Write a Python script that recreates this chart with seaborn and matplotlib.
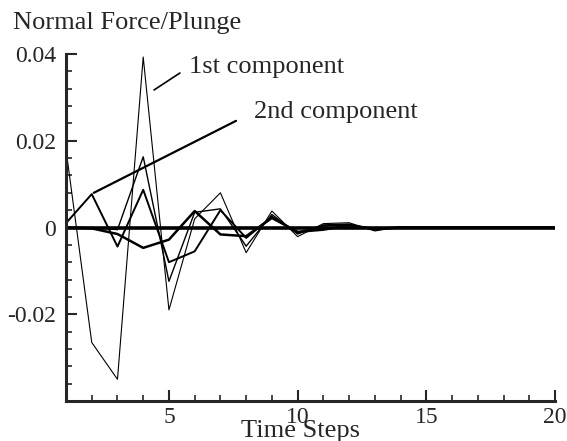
import numpy as np
import pandas as pd
import matplotlib
matplotlib.use("Agg")
import matplotlib.pyplot as plt
import seaborn as sns
from matplotlib.ticker import MultipleLocator, FixedLocator

steps = list(range(1, 21))
series_a = [0.018, -0.0265, -0.035, 0.0393, -0.019, 0.002, 0.008, -0.0058, 0.0038, -0.0021,
            0.0009, 0.0011, -0.0008, 0.0002, 0.0, 0.0, 0.0, 0.0, 0.0, 0.0]
series_b = [0.0, 0.0, -0.0005, 0.0163, -0.0124, 0.0035, 0.0043, -0.0043, 0.0030, -0.0015,
            0.0006, 0.0008, -0.0006, 0.0001, 0.0, 0.0, 0.0, 0.0, 0.0, 0.0]
series_c = [0.001, 0.0077, -0.0044, 0.0087, -0.008, -0.0055, 0.0040, -0.0024, 0.0025, -0.0012,
            0.0004, 0.0006, -0.0004, 0.0, 0.0, 0.0, 0.0, 0.0, 0.0, 0.0]
series_d = [0.0, -0.0002, -0.0015, -0.0047, -0.0028, 0.0038, -0.0016, -0.0020, 0.0022, -0.0010,
            -0.0005, 0.0005, -0.0003, 0.0, 0.0, 0.0, 0.0, 0.0, 0.0, 0.0]
series_e = [0.0] * 20

y_ticks = [-0.02, 0.0, 0.02, 0.04]
y_tick_labels = ["-0.02", "0", "0.02", "0.04"]
x_ticks = [5, 10, 15, 20]
x_tick_labels = ["5", "10", "15", "20"]

sns.set_style("ticks")
plt.rcParams["font.family"] = ["Liberation Serif", "DejaVu Serif"]

fig = plt.figure(figsize=(5.67, 4.41), dpi=100)
ax = fig.add_axes([66 / 567, 1 - 401 / 441, (555 - 66) / 567, (401 - 54) / 441])

styles = [(series_e, 2.6), (series_d, 1.8), (series_c, 1.4), (series_b, 1.0), (series_a, 0.8)]
for vals, lw in styles:
    df = pd.DataFrame({"step": steps, "val": vals})
    sns.lineplot(data=df, x="step", y="val", ax=ax, color="black", linewidth=lw)

ax.set_xlim(1, 20)
ax.set_ylim(-0.04, 0.04)
ax.set_xticks(x_ticks)
ax.set_xticklabels(x_tick_labels, fontsize=17)
ax.set_yticks(y_ticks)
ax.set_yticklabels(y_tick_labels, fontsize=17)
ax.xaxis.set_minor_locator(MultipleLocator(1))
ax.yaxis.set_minor_locator(MultipleLocator(0.004))
ax.tick_params(axis="both", which="major", direction="in", length=8, width=1.5, pad=4)
ax.tick_params(axis="y", which="major", pad=7)
ax.tick_params(axis="both", which="minor", direction="in", length=4, width=1.2)
for s in ["top", "right"]:
    ax.spines[s].set_visible(False)
for s in ["left", "bottom"]:
    ax.spines[s].set_linewidth(2.2)

ax.set_ylabel("")
ax.set_xlabel("Time Steps", fontsize=19)
ax.xaxis.set_label_coords(0.48, -0.055)
ax.xaxis.label.set_va("top")

fig.text(13 / 567, 1 - 23 / 441, "Normal Force/Plunge", fontsize=19, ha="left", va="center")

ax.annotate("1st component", xy=(4.42, 0.0317), xytext=(5.78, 0.037),
            fontsize=19, ha="left", va="center",
            arrowprops=dict(arrowstyle="-", color="black", lw=1.2, relpos=(0, 0.5),
                            shrinkA=5, shrinkB=0))
ax.annotate("2nd component", xy=(2.08, 0.008), xytext=(8.31, 0.0267),
            fontsize=19, ha="left", va="center",
            arrowprops=dict(arrowstyle="-", color="black", lw=1.6, relpos=(0, 0.5),
                            shrinkA=12, shrinkB=0))

fig.savefig("out.png", dpi=100)
